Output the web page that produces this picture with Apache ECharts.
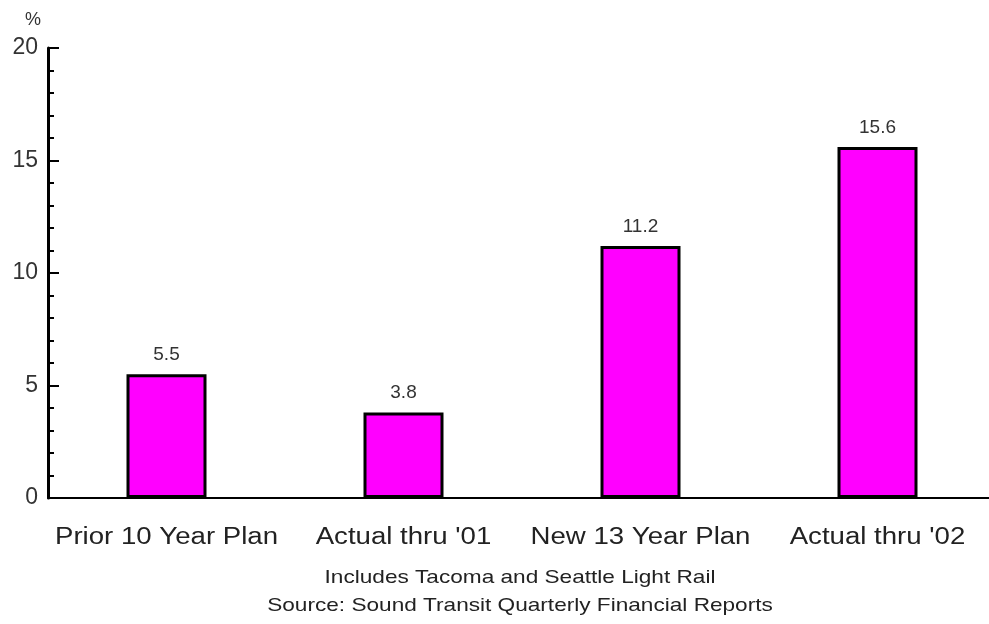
<!DOCTYPE html>
<html><head><meta charset="utf-8">
<script src="https://cdn.jsdelivr.net/npm/echarts@6/dist/echarts.min.js"></script>
<style>html,body{margin:0;padding:0;background:#fff}#c{width:989px;height:624px}</style>
</head><body><div id="c"></div>
<script>
const categories = ["Prior 10 Year Plan", "Actual thru '01", "New 13 Year Plan", "Actual thru '02"];
const values = [5.5, 3.8, 11.2, 15.6];
const yTicks = [0, 5, 10, 15, 20];
const footnotes = ["Includes Tacoma and Seattle Light Rail", "Source: Sound Transit Quarterly Financial Reports"];

const chart = echarts.init(document.getElementById('c'));
const font = 'Liberation Sans, Arial, sans-serif';
chart.setOption({
  animation: false,
  grid: { left: 48, width: 948, top: 48, bottom: 126, containLabel: false, outerBoundsMode: 'none' },
  graphic: [
    { type: 'text', x: 25, y: 11, style: { text: '%', font: '18px ' + font, fill: '#333' } },
    { type: 'text', x: 520, y: 578, scaleX: 1.19, style: { text: footnotes[0], font: '19px ' + font, fill: '#222', textAlign: 'center', textVerticalAlign: 'middle' } },
    { type: 'text', x: 520, y: 606, scaleX: 1.19, style: { text: footnotes[1], font: '19px ' + font, fill: '#222', textAlign: 'center', textVerticalAlign: 'middle' } }
  ],
  xAxis: {
    type: 'category', data: categories,
    axisLine: { lineStyle: { color: '#000', width: 2 } },
    axisTick: { show: false },
    axisLabel: { show: false }
  },
  yAxis: {
    type: 'value', min: 0, max: 20, interval: 5,
    axisLine: { show: true, lineStyle: { color: '#000', width: 3 } },
    axisTick: { show: true, inside: true, length: 11, lineStyle: { color: '#000', width: 2 } },
    minorTick: { show: true, splitNumber: 5, length: 6, lineStyle: { color: '#000', width: 2 } },
    splitLine: { show: false },
    axisLabel: { color: '#333', fontSize: 23, fontFamily: font, margin: 10,
      formatter: v => yTicks.includes(v) ? String(v) : '' }
  },
  series: [{
    type: 'bar', data: values, barWidth: 80,
    itemStyle: { color: '#ff00ff', borderColor: '#000', borderWidth: 3 },
    label: { show: true, position: 'top', distance: 10, color: '#333', fontSize: 19, fontFamily: font }
  }]
});
// category labels placed through the category axis scale, slightly widened like the reference
const labelY = chart.convertToPixel({ yAxisIndex: 0 }, 0) + 40;
chart.setOption({
  graphic: categories.map((c, i) => ({
    type: 'text', id: 'cat' + i,
    x: chart.convertToPixel({ xAxisIndex: 0 }, c), y: labelY, scaleX: 1.2,
    style: { text: c, font: '23px ' + font, fill: '#222', textAlign: 'center', textVerticalAlign: 'middle' }
  }))
});
</script></body></html>
